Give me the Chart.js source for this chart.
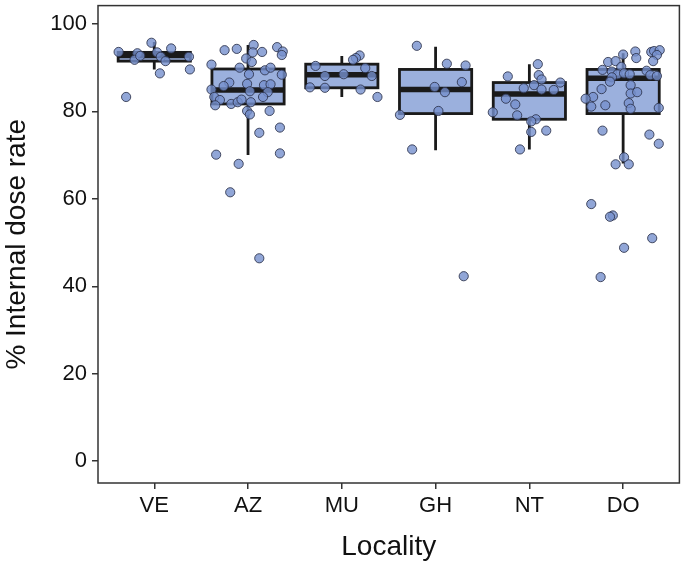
<!DOCTYPE html>
<html><head><meta charset="UTF-8">
<title>Internal dose rate by locality</title>
<script src="https://cdn.jsdelivr.net/npm/chart.js"></script>
<style>
  html, body { margin: 0; padding: 0; background: #ffffff; }
  canvas { display: block; }
</style></head>
<body>
<canvas id="chart" width="685" height="570"></canvas>
<script>
// categories
const localities = ['VE', 'AZ', 'MU', 'GH', 'NT', 'DO'];
const yTicks = [0, 20, 40, 60, 80, 100];

// box stats
const whiskerLow  = [89.6, 70.0, 83.3, 71.1, 71.3, 68.1];
const q1          = [91.5, 81.7, 85.4, 79.5, 78.2, 79.5];
const median      = [92.8, 84.9, 88.4, 85.0, 84.0, 87.6];
const q3          = [93.5, 89.7, 90.8, 89.6, 86.6, 89.6];
const whiskerHigh = [95.9, 95.2, 92.7, 94.8, 90.8, 93.3];

// jittered observations: value + horizontal jitter (category units)
const veValues = [93.6, 93.3, 91.8, 92.7, 95.7, 93.5, 92.5, 91.5, 94.4, 92.5, 89.6, 88.7, 83.3];
const veJitter = [-0.38, -0.18, -0.21, -0.15, -0.03, 0.03, 0.07, 0.12, 0.18, 0.37, 0.38, 0.06, -0.30];

const azValues = [94.0, 94.3, 95.2, 93.5, 93.6, 94.7, 93.7, 92.9, 92.1, 91.3, 90.7, 90.0, 89.4, 90.0,
  88.4, 88.5, 86.6, 85.8, 86.3, 84.6, 86.0, 86.2, 85.0, 84.4, 83.3, 83.3, 82.6, 81.4, 81.7, 82.1,
  82.7, 82.1, 80.1, 79.3, 80.1, 75.1, 76.3, 70.1, 70.4, 68.0, 61.5, 46.4];
const azJitter = [-0.25, -0.12, 0.06, 0.05, 0.15, 0.31, 0.37, 0.36, -0.02, 0.04, -0.39, -0.09, 0.18, 0.24,
  0.36, 0.01, -0.20, -0.26, -0.01, 0.02, 0.17, 0.24, -0.39, 0.21, 0.16, -0.36, -0.30, -0.35, -0.18, -0.11,
  -0.07, 0.03, -0.01, 0.02, 0.23, 0.12, 0.34, -0.34, 0.34, -0.10, -0.19, 0.12];

const muValues = [90.4, 88.1, 88.5, 92.8, 92.2, 91.8, 89.9, 88.1, 85.5, 85.4, 85.0, 83.3];
const muJitter = [-0.28, -0.18, 0.02, 0.19, 0.15, 0.12, 0.25, 0.32, -0.34, -0.18, 0.20, 0.38];

const ghValues = [95.0, 90.9, 90.5, 86.7, 85.6, 84.4, 80.1, 79.2, 71.3, 42.3];
const ghJitter = [-0.20, 0.12, 0.32, 0.28, -0.01, 0.10, 0.03, -0.38, -0.25, 0.30];

const ntValues = [90.8, 88.0, 88.3, 87.3, 86.6, 86.0, 85.3, 85.0, 84.9, 82.9, 81.6, 79.8, 79.1, 78.2,
  77.7, 75.6, 75.3, 71.3];
const ntJitter = [0.09, -0.23, 0.10, 0.13, 0.33, 0.05, -0.06, 0.13, 0.26, -0.25, -0.15, -0.39, -0.13, 0.07,
  0.02, 0.18, 0.02, -0.10];

const doValues = [93.0, 93.7, 92.2, 93.6, 93.8, 94.0, 92.9, 91.5, 91.3, 91.5, 90.2, 89.5, 89.1, 88.5,
  88.7, 88.5, 87.8, 86.8, 89.3, 88.3, 88.1, 86.0, 84.1, 84.4, 85.1, 83.3, 82.9, 81.1, 81.4, 81.9,
  80.6, 80.8, 75.6, 74.7, 72.6, 69.5, 67.9, 67.9, 58.8, 56.2, 55.9, 51.0, 48.8, 42.1];
const doJitter = [0.00, 0.13, 0.14, 0.30, 0.33, 0.39, 0.36, 0.32, -0.16, -0.08, -0.02, -0.22, -0.12, -0.06,
  0.01, 0.07, -0.12, -0.14, 0.25, 0.29, 0.36, 0.08, 0.08, 0.15, -0.23, -0.32, -0.40, -0.34, -0.19, 0.06,
  0.08, 0.38, -0.22, 0.28, 0.38, 0.01, -0.08, 0.06, -0.34, -0.11, -0.14, 0.31, 0.01, -0.24];

const groups = [
  [veValues, veJitter], [azValues, azJitter], [muValues, muJitter],
  [ghValues, ghJitter], [ntValues, ntJitter], [doValues, doJitter]
];

const points = groups.flatMap(([vals, jit], i) => vals.map((v, k) => ({ x: i + jit[k], y: v })));

const INK = '#111111';
const FONT = "'Liberation Sans', Arial, Helvetica, sans-serif";

// boxes + whiskers drawn under the points, through the chart's scales
const boxPlugin = {
  id: 'boxes',
  beforeDatasetsDraw(chart) {
    const { ctx, scales: { x, y } } = chart;
    const half = 0.385;
    ctx.save();
    ctx.strokeStyle = '#1a1a1a';
    localities.forEach((_, i) => {
      const l = x.getPixelForValue(i - half);
      const r = x.getPixelForValue(i + half);
      const c = x.getPixelForValue(i);
      ctx.lineWidth = 2.8;
      ctx.beginPath();
      ctx.moveTo(c, y.getPixelForValue(whiskerHigh[i]));
      ctx.lineTo(c, y.getPixelForValue(q3[i]));
      ctx.moveTo(c, y.getPixelForValue(q1[i]));
      ctx.lineTo(c, y.getPixelForValue(whiskerLow[i]));
      ctx.stroke();
      const top = y.getPixelForValue(q3[i]);
      const bot = y.getPixelForValue(q1[i]);
      ctx.fillStyle = '#9bb0dd';
      ctx.fillRect(l, top, r - l, bot - top);
      ctx.strokeRect(l, top, r - l, bot - top);
      ctx.lineWidth = 5.5;
      ctx.beginPath();
      ctx.moveTo(l, y.getPixelForValue(median[i]));
      ctx.lineTo(r, y.getPixelForValue(median[i]));
      ctx.stroke();
    });
    ctx.restore();
  },
  afterDraw(chart) {
    const { ctx, chartArea: a } = chart;
    ctx.save();
    ctx.strokeStyle = '#333333';
    ctx.lineWidth = 1.5;
    ctx.strokeRect(a.left, a.top, a.right - a.left, a.bottom - a.top);
    ctx.restore();
  }
};

new Chart(document.getElementById('chart').getContext('2d'), {
  type: 'scatter',
  data: {
    datasets: [{
      label: 'observations',
      data: points,
      pointRadius: 4.6,
      pointHoverRadius: 4.6,
      backgroundColor: 'rgba(118, 144, 205, 0.8)',
      borderColor: 'rgba(45, 50, 75, 0.85)',
      borderWidth: 1
    }]
  },
  options: {
    responsive: false,
    devicePixelRatio: 1,
    animation: false,
    layout: { padding: { left: 0, top: 2, right: 3, bottom: 0 } },
    plugins: { legend: { display: false }, tooltip: { enabled: false } },
    scales: {
      x: {
        type: 'linear',
        min: -0.6,
        max: 5.6,
        afterBuildTicks: s => { s.ticks = localities.map((_, i) => ({ value: i })); },
        afterFit: s => { s.height = 87; s.paddingLeft = 0; s.paddingRight = 0; },
        ticks: {
          callback: v => localities[v],
          color: INK,
          font: { family: FONT, size: 22 },
          padding: 4,
          maxRotation: 0
        },
        grid: { drawOnChartArea: false, drawTicks: true, tickLength: 6, color: '#333333', lineWidth: 1.5 },
        border: { display: false },
        title: {
          display: true,
          text: 'Locality',
          color: INK,
          font: { family: FONT, size: 28 },
          padding: { top: 4, bottom: 6 }
        }
      },
      y: {
        min: -5,
        max: 104.2,
        afterBuildTicks: s => { s.ticks = yTicks.map(v => ({ value: v })); },
        afterFit: s => { s.width = 98; s.paddingTop = 0; s.paddingBottom = 0; },
        ticks: {
          color: INK,
          font: { family: FONT, size: 22 },
          padding: 5
        },
        grid: { drawOnChartArea: false, drawTicks: true, tickLength: 6, color: '#333333', lineWidth: 1.5 },
        border: { display: false },
        title: {
          display: true,
          text: '% Internal dose rate',
          color: INK,
          font: { family: FONT, size: 28 },
          padding: { top: 0, bottom: 2 }
        }
      }
    }
  },
  plugins: [boxPlugin]
});
</script>
</body></html>
